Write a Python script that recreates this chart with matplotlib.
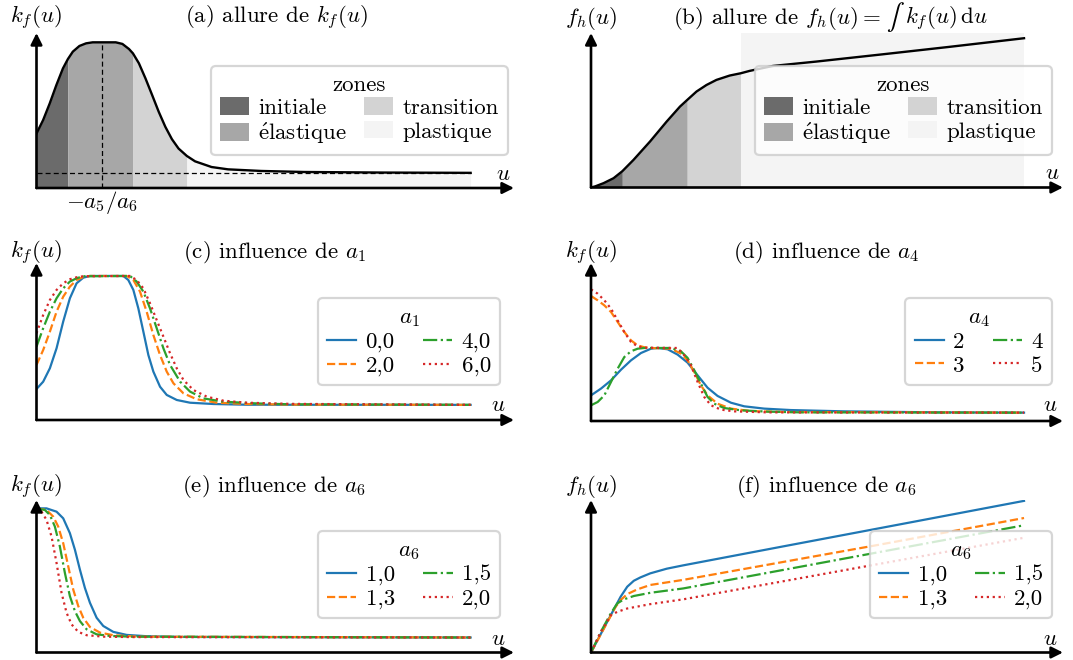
import numpy as np
import matplotlib
matplotlib.use('Agg')
import matplotlib.pyplot as plt
from matplotlib.patches import Patch
from matplotlib.offsetbox import TextArea, HPacker, AnnotationBbox

plt.rcParams['font.family'] = ['cmr10', 'DejaVu Serif']
plt.rcParams['mathtext.fontset'] = 'cm'
plt.rcParams['axes.formatter.use_mathtext'] = True

# ---------- donnees ----------
zone_names = ['initiale', r'$\mathrm{\acute{e}}$lastique', 'transition', 'plastique']
zone_colors = ['#6b6b6b', '#a7a7a7', '#d3d3d3', '#f4f4f4']
zone_bounds = [0.0, 0.723, 2.222, 3.463, 10.0]
peak_u = 1.51
asym_k = 0.103

# (a) k_f(u)
ua = [0, 0.152, 0.304, 0.457, 0.609, 0.723, 0.837, 0.989, 1.142, 1.294, 1.826, 1.979,
      2.131, 2.222, 2.359, 2.511, 2.664, 2.816, 2.968, 3.120, 3.272, 3.463, 3.653, 4.033,
      4.414, 5.175, 6.164, 8.0, 10.0]
ka = [0.374, 0.466, 0.580, 0.706, 0.821, 0.885, 0.936, 0.975, 0.993, 1.0, 1.0, 0.989,
      0.954, 0.924, 0.856, 0.752, 0.638, 0.523, 0.420, 0.335, 0.271, 0.220, 0.183, 0.144,
      0.128, 0.117, 0.110, 0.106, 0.104]

# (b) f_h(u)
ub = [0, 0.10, 0.291, 0.521, 0.723, 0.981, 1.364, 1.747, 2.054, 2.222, 2.437, 2.667, 2.897,
      3.203, 3.463, 3.663, 4.199, 5.195, 6.728, 8.261, 10.0]
fb = [0, 0.008, 0.030, 0.064, 0.112, 0.190, 0.317, 0.454, 0.557, 0.603, 0.661, 0.706, 0.741,
      0.771, 0.787, 0.803, 0.837, 0.867, 0.917, 0.968, 1.028]

# (c) influence de a1
a1_labels = ['0,0', '2,0', '4,0', '6,0']
uc = [
    [0, 0.154, 0.308, 0.462, 0.615, 0.769, 0.923, 1.077, 1.231, 2.0, 2.115, 2.231, 2.346,
     2.462, 2.577, 2.692, 2.846, 3.0, 3.231, 3.538, 4.077, 4.846, 10],
    [0, 0.154, 0.308, 0.462, 0.615, 0.769, 0.923, 1.077, 1.231, 2.077, 2.231, 2.385, 2.538,
     2.692, 2.846, 3.0, 3.154, 3.385, 3.692, 4.154, 4.846, 5.846, 10],
    [0, 0.154, 0.308, 0.462, 0.615, 0.769, 0.923, 1.077, 2.154, 2.308, 2.462, 2.615, 2.769,
     2.923, 3.077, 3.308, 3.538, 3.846, 4.308, 5.077, 5.846, 10],
    [0, 0.154, 0.308, 0.462, 0.615, 0.769, 0.923, 1.077, 2.154, 2.308, 2.462, 2.615, 2.769,
     2.923, 3.077, 3.231, 3.385, 3.615, 3.923, 4.308, 4.846, 5.846, 10],
]
kc = [
    [0.215, 0.266, 0.359, 0.498, 0.683, 0.845, 0.949, 0.988, 1.0, 1.0, 0.972, 0.903, 0.775,
     0.613, 0.451, 0.336, 0.231, 0.174, 0.139, 0.120, 0.111, 0.106, 0.105],
    [0.382, 0.486, 0.613, 0.752, 0.856, 0.926, 0.972, 0.993, 1.0, 1.0, 0.972, 0.891, 0.752,
     0.590, 0.451, 0.336, 0.255, 0.185, 0.144, 0.120, 0.111, 0.107, 0.105],
    [0.509, 0.637, 0.752, 0.845, 0.914, 0.961, 0.984, 0.998, 1.0, 0.961, 0.891, 0.775, 0.637,
     0.498, 0.382, 0.266, 0.197, 0.150, 0.127, 0.115, 0.109, 0.105],
    [0.602, 0.729, 0.833, 0.903, 0.949, 0.977, 0.991, 0.998, 1.0, 0.972, 0.914, 0.810, 0.694,
     0.579, 0.463, 0.359, 0.278, 0.208, 0.162, 0.134, 0.120, 0.112, 0.105],
]

# (d) influence de a4
a4_labels = ['2', '3', '4', '5']
ud = [
    [0, 0.231, 0.462, 0.692, 0.923, 1.154, 1.385, 1.538, 1.769, 2.0, 2.231, 2.462, 2.692,
     2.923, 3.231, 3.538, 4.0, 4.615, 5.846, 8.0, 10],
    [0, 0.154, 0.308, 0.462, 0.615, 0.769, 0.923, 1.077, 1.231, 1.385, 1.846, 2.077, 2.231,
     2.385, 2.538, 2.692, 2.923, 3.231, 3.692, 4.462, 10],
    [0, 0.154, 0.308, 0.462, 0.615, 0.769, 0.923, 1.077, 1.231, 1.846, 2.077, 2.231, 2.385,
     2.538, 2.692, 2.846, 3.077, 3.462, 4.077, 4.846, 10],
    [0, 0.154, 0.308, 0.462, 0.615, 0.769, 0.923, 1.077, 1.231, 2.0, 2.154, 2.308, 2.462,
     2.615, 2.769, 3.0, 3.308, 4.077, 10],
]
kd = [
    [0.178, 0.225, 0.282, 0.356, 0.421, 0.472, 0.502, 0.507, 0.498, 0.461, 0.405, 0.317, 0.231,
     0.174, 0.127, 0.102, 0.086, 0.076, 0.067, 0.060, 0.058],
    [0.868, 0.838, 0.803, 0.757, 0.688, 0.618, 0.560, 0.525, 0.512, 0.507, 0.502, 0.468, 0.421,
     0.340, 0.248, 0.178, 0.120, 0.086, 0.069, 0.0625, 0.058],
    [0.109, 0.132, 0.178, 0.271, 0.363, 0.444, 0.484, 0.502, 0.507, 0.507, 0.484, 0.438, 0.352,
     0.259, 0.167, 0.120, 0.090, 0.074, 0.065, 0.060, 0.058],
    [0.914, 0.884, 0.838, 0.780, 0.699, 0.618, 0.549, 0.518, 0.509, 0.507, 0.456, 0.387, 0.271,
     0.167, 0.109, 0.079, 0.067, 0.060, 0.058],
]

# (e) influence de a6 sur k_f
a6_labels = ['1,0', '1,3', '1,5', '2,0']
ue = [
    [0, 0.231, 0.462, 0.615, 0.769, 0.885, 1.0, 1.115, 1.231, 1.385, 1.538, 1.769, 2.077,
     2.538, 3.308, 10],
    [0, 0.231, 0.385, 0.5, 0.615, 0.731, 0.846, 0.962, 1.077, 1.231, 1.462, 1.769, 2.308, 10],
    [0, 0.192, 0.308, 0.423, 0.538, 0.654, 0.769, 0.885, 1.0, 1.154, 1.385, 1.692, 2.154, 10],
    [0, 0.115, 0.231, 0.346, 0.462, 0.577, 0.692, 0.808, 0.962, 1.154, 1.538, 2.154, 10],
]
ke = [
    [1.0, 1.0, 0.977, 0.931, 0.828, 0.713, 0.575, 0.448, 0.345, 0.241, 0.184, 0.143, 0.122,
     0.113, 0.108, 0.104],
    [1.0, 0.989, 0.943, 0.874, 0.759, 0.598, 0.437, 0.322, 0.241, 0.177, 0.138, 0.120, 0.110, 0.104],
    [1.0, 0.989, 0.954, 0.874, 0.736, 0.552, 0.391, 0.287, 0.218, 0.161, 0.126, 0.115, 0.110, 0.104],
    [1.0, 0.977, 0.920, 0.805, 0.621, 0.414, 0.276, 0.195, 0.143, 0.120, 0.110, 0.107, 0.104],
]

# (f) influence de a6 sur f_h
uf = [
    [0, 0.342, 0.684, 0.837, 0.989, 1.141, 1.369, 1.749, 2.129, 4.41, 7.45, 10],
    [0, 0.342, 0.570, 0.684, 0.837, 1.065, 1.369, 2.129, 4.41, 6.58, 10],
    [0, 0.228, 0.456, 0.608, 0.760, 0.989, 1.369, 2.129, 4.41, 6.58, 10],
    [0, 0.228, 0.456, 0.608, 0.837, 1.369, 2.129, 4.41, 6.58, 10],
]
ff = [
    [0, 0.193, 0.384, 0.453, 0.494, 0.517, 0.545, 0.577, 0.600, 0.729, 0.900, 1.044],
    [0, 0.189, 0.315, 0.361, 0.402, 0.434, 0.465, 0.500, 0.622, 0.738, 0.926],
    [0, 0.143, 0.269, 0.338, 0.366, 0.389, 0.411, 0.441, 0.567, 0.687, 0.876],
    [0, 0.143, 0.257, 0.280, 0.303, 0.333, 0.366, 0.489, 0.606, 0.790],
]

colors = ['#1f77b4', '#ff7f0e', '#2ca02c', '#d62728']
styles = ['-', '--', '-.', ':']

# ---------- figure ----------
W, H = 1073, 660
FS = 16.5
fig = plt.figure(figsize=(W / 100, H / 100), dpi=100)


def fx(x):
    return x / W


def fy(y):
    return 1 - y / H


def make_ax(x0, x1, yb, yt, xmax, ymax):
    ax = fig.add_axes([fx(x0), fy(yb), (x1 - x0) / W, (yb - yt) / H])
    ax.set_xlim(0, xmax)
    ax.set_ylim(0, ymax)
    ax.set_axis_off()
    ap = dict(arrowstyle='-|>', color='k', lw=1.9, shrinkA=0, shrinkB=0, mutation_scale=17)
    ax.annotate('', xy=(1, 0), xytext=(0, 0), xycoords='axes fraction',
                textcoords='axes fraction', arrowprops=ap, zorder=5)
    ax.annotate('', xy=(0, 1), xytext=(0, 0), xycoords='axes fraction',
                textcoords='axes fraction', arrowprops=ap, zorder=5)
    return ax


def labels(xc, ylab, title, xt, yt_, xu, yu):
    fig.text(fx(xc), fy(yt_), ylab, ha='center', va='center', fontsize=FS)
    if title is not None:
        fig.text(fx(xt), fy(yt_), title, ha='center', va='center', fontsize=FS)
    fig.text(fx(xu), fy(yu), '$u$', ha='center', va='center', fontsize=FS)


def legend(ax, handles, title, xr, yt_, colsp):
    leg = ax.legend(handles=handles, title=title, ncol=2, loc='upper right',
                    bbox_to_anchor=(fx(xr), fy(yt_)), bbox_transform=fig.transFigure,
                    borderaxespad=0, fontsize=FS, title_fontsize=FS, labelspacing=0.12,
                    handlelength=1.27, handleheight=0.8, handletextpad=0.4,
                    columnspacing=colsp, borderpad=0.4, framealpha=0.8, edgecolor='0.8')
    leg.get_frame().set_linewidth(1.6)
    return leg


zone_handles = [Patch(facecolor=c, edgecolor='none', label=n)
                for c, n in zip(zone_colors, zone_names)]

# (a)
ax = make_ax(36.5, 514, 188, 33, 11.0, 1.064)
ua_ = np.array(ua)
ka_ = np.array(ka)
for i in range(4):
    m = (ua_ >= zone_bounds[i]) & (ua_ <= zone_bounds[i + 1])
    ax.fill_between(ua_[m], 0, ka_[m], color=zone_colors[i], lw=0, zorder=1)
ax.plot(ua, ka, color='k', lw=1.7, zorder=3)
ax.plot([0, ua[-1]], [asym_k, asym_k], color='k', ls='--', lw=0.9, dashes=(4, 2.5), zorder=3)
ax.plot([peak_u, peak_u], [0, max(ka)], color='k', ls='--', lw=0.9, dashes=(4, 2.5), zorder=3)
legend(ax, zone_handles, 'zones', 508, 66, 0.75)
labels(36, '$k_f(u)$', '(a) allure de $k_f(u)$', 276, 18, 503, 174)
fig.text(fx(102), fy(203), '$-a_5/a_6$', ha='center', va='center', fontsize=FS)

# (b)
ax = make_ax(591, 1063, 187.5, 33, 10.9, 1.064)
ub_ = np.array(ub)
fb_ = np.array(fb)
for i in range(3):
    m = (ub_ >= zone_bounds[i]) & (ub_ <= zone_bounds[i + 1])
    ax.fill_between(ub_[m], 0, fb_[m], color=zone_colors[i], lw=0, zorder=1)
m = ub_ >= zone_bounds[3]
ax.fill_between(ub_[m], 0, 1.064, color=zone_colors[3], lw=0, zorder=1)
ax.plot(ub, fb, color='k', lw=1.7, zorder=3)
legend(ax, zone_handles, 'zones', 1052, 66, 0.75)
labels(591, '$f_h(u)$', None, 0, 18, 1052, 173)
parts = [
    TextArea('(b) allure de $f_h(u) =$', textprops=dict(fontsize=FS)),
    TextArea('∫', textprops=dict(fontsize=FS * 1.15, family='STIXGeneral')),
    TextArea(r'$k_f(u)\,\mathrm{d}u$', textprops=dict(fontsize=FS)),
]
pack = HPacker(children=parts, align='baseline', pad=0, sep=4.5)
fig.add_artist(AnnotationBbox(pack, (fx(830), fy(18)), xycoords='figure fraction',
                              frameon=False, box_alignment=(0.5, 0.5), pad=0))

# (c)
ax = make_ax(36.5, 514, 420, 263, 11.0, 1.09)
hs = []
for u, k, c, s, l in zip(uc, kc, colors, styles, a1_labels):
    hs += ax.plot(u, k, color=c, ls=s, lw=1.6, label=l)
legend(ax, hs, '$a_1$', 500, 298, 1.25)
labels(36, '$k_f(u)$', '(c) influence de $a_1$', 274, 253, 498, 405)

# (d)
ax = make_ax(591, 1063, 421, 263, 10.9, 1.097)
hs = []
for u, k, c, s, l in zip(ud, kd, colors, styles, a4_labels):
    hs += ax.plot(u, k, color=c, ls=s, lw=1.6, label=l)
legend(ax, hs, '$a_4$', 1052, 298, 1.25)
labels(591, '$k_f(u)$', '(d) influence de $a_4$', 826, 253, 1050, 405)

# (e)
ax = make_ax(36.5, 514, 652.5, 500, 11.0, 1.058)
hs = []
for u, k, c, s, l in zip(ue, ke, colors, styles, a6_labels):
    hs += ax.plot(u, k, color=c, ls=s, lw=1.6, label=l)
legend(ax, hs, '$a_6$', 500, 531, 1.25)
labels(36, '$k_f(u)$', '(e) influence de $a_6$', 274, 487, 498, 639)

# (f)
ax = make_ax(591, 1063, 652.5, 500, 10.9, 1.05)
hs = []
for u, k, c, s, l in zip(uf, ff, colors, styles, a6_labels):
    hs += ax.plot(u, k, color=c, ls=s, lw=1.6, label=l)
legend(ax, hs, '$a_6$', 1052, 531, 1.25)
labels(591, '$f_h(u)$', '(f) influence de $a_6$', 826, 487, 1050, 639)

fig.savefig('out.png', dpi=100)
